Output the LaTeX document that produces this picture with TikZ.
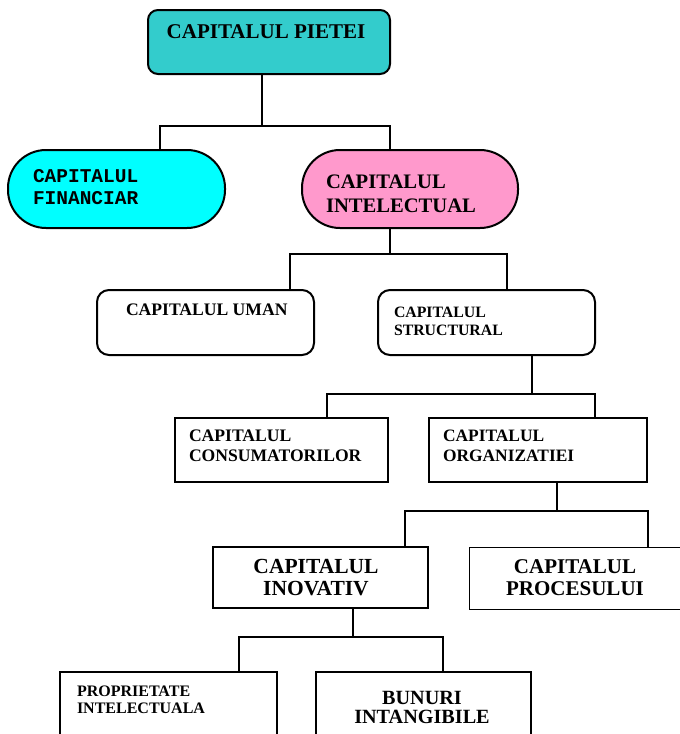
\documentclass[tikz,border=0pt]{standalone}
\usepackage{fontspec}
\setmainfont{Liberation Serif}
\newfontfamily\monofont{Liberation Mono}
\usetikzlibrary{positioning}

\definecolor{pieteicol}{HTML}{33CCCC}
\definecolor{fincol}{HTML}{00FFFF}
\definecolor{intelcol}{HTML}{FF99CC}

\newcommand\fz[2]{\fontsize{#1pt}{#2pt}\selectfont\bfseries}

\begin{document}
\begin{tikzpicture}[x=1pt, y=-1pt, line width=2pt,
    box/.style={draw, inner sep=0pt},
    lbl/.style={inner sep=0pt, align=left, anchor=base west},
    clbl/.style={inner sep=0pt, align=center, anchor=base}]
\useasboundingbox (0,0) rectangle (680,734);
\clip (0,0) rectangle (680,734);

% boxes
\node (pietei) [box, rounded corners=10pt, fill=pieteicol, minimum width=242pt, minimum height=64pt] at (269,42) {};
\node (fin) [box, rounded corners=38pt, fill=fincol, minimum width=217pt, minimum height=78pt] at (116.5,189) {};
\node (intel) [box, rounded corners=38pt, fill=intelcol, minimum width=216pt, minimum height=78pt] at (410,189) {};
\node (uman) [box, rounded corners=12pt, minimum width=217pt, minimum height=65pt] at (205.5,322.5) {};
\node (struct) [box, rounded corners=12pt, minimum width=217pt, minimum height=65pt] at (486.5,322.5) {};
\node (cons) [box, minimum width=213pt, minimum height=64pt] at (281.5,450) {};
\node (org) [box, minimum width=218pt, minimum height=64pt] at (538,450) {};
\node (inov) [box, minimum width=215pt, minimum height=61pt] at (320.5,577.5) {};
\node (proc) [box, line width=1pt, minimum width=231pt, minimum height=62pt] at (584.5,578) {};
\node (prop) [box, minimum width=217pt, minimum height=80pt] at (168.5,712) {};
\node (bun) [box, minimum width=215pt, minimum height=80pt] at (423.5,712) {};

% texts (anchored at the baseline of the last line)
\node (pieteiT) [clbl, font=\fz{21}{24}] at (266,38) {CAPITALUL PIETEI};
\node (finT) [lbl, font=\monofont\fz{19.5}{22}] at (32,204) {CAPITALUL\\FINANCIAR};
\node (intelT) [lbl, font=\fz{20.6}{24}] at (325,212) {CAPITALUL\\INTELECTUAL};
\node (umanT) [lbl, font=\fz{17.6}{20}] at (125,315) {CAPITALUL UMAN};
\node (structT) [lbl, font=\fz{15.8}{17.5}] at (393,335) {CAPITALUL\\STRUCTURAL};
\node (consT) [lbl, font=\fz{17.6}{19.5}] at (188,461) {CAPITALUL\\CONSUMATORILOR};
\node (orgT) [lbl, font=\fz{17.4}{19.5}] at (442,461) {CAPITALUL\\ORGANIZATIEI};
\node (inovT) [clbl, font=\fz{21.5}{22}] at (316,595) {CAPITALUL\\INOVATIV};
\node (procT) [clbl, font=\fz{21}{22}] at (575,595) {CAPITALUL\\PROCESULUI};
\node (propT) [lbl, font=\fz{16}{16.5}] at (76,713) {PROPRIETATE\\INTELECTUALA};
\node (bunT) [clbl, font=\fz{20.2}{19}] at (422,723) {BUNURI\\INTANGIBILE};

% connectors
\draw ([xshift=-7pt]pietei.south) -- ++(0,51) coordinate (b1);
\draw ([xshift=43.5pt]fin.north) |- (b1) -| ([xshift=-20pt]intel.north);
\draw ([xshift=-20pt]intel.south) -- ++(0,25) coordinate (b2);
\draw ([xshift=84.5pt]uman.north) |- (b2) -| ([xshift=20.5pt]struct.north);
\draw ([xshift=45.5pt]struct.south) -- ++(0,38) coordinate (b3);
\draw ([xshift=45.5pt]cons.north) |- (b3) -| ([xshift=57pt]org.north);
\draw ([xshift=19pt]org.south) -- ++(0,28) coordinate (b4);
\draw ([xshift=84.5pt]inov.north) |- (b4) -| ([xshift=63pt]proc.north);
\draw ([xshift=32.5pt]inov.south) -- ++(0,28) coordinate (b5);
\draw ([xshift=70.5pt]prop.north) |- (b5) -| ([xshift=19.5pt]bun.north);
\end{tikzpicture}
\end{document}
